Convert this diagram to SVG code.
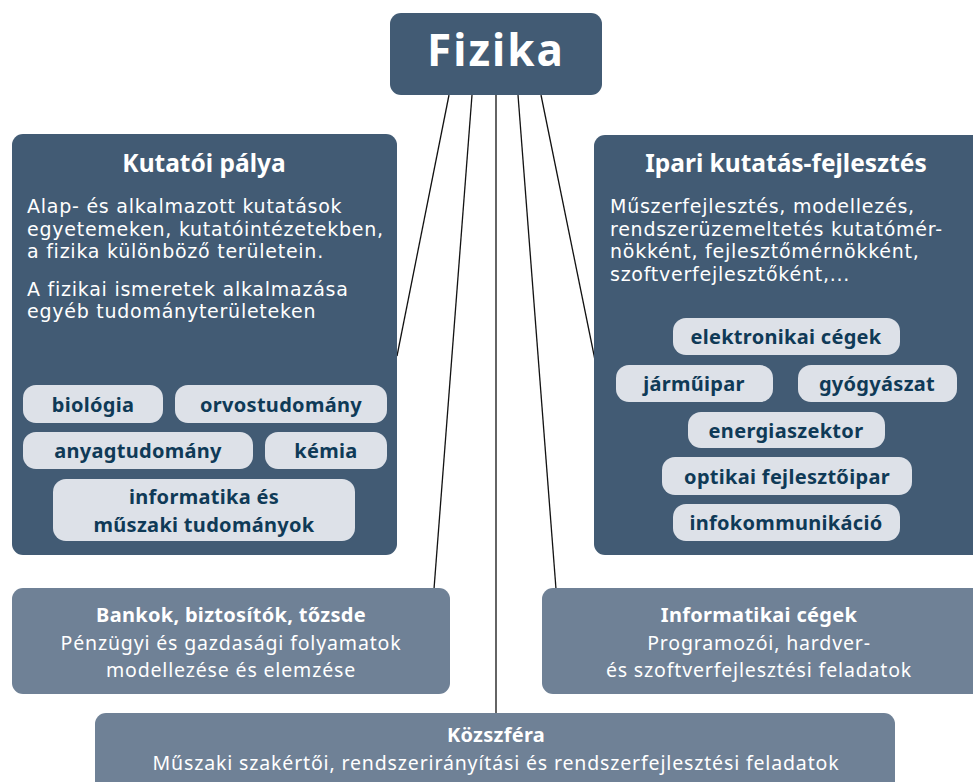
<svg xmlns="http://www.w3.org/2000/svg" width="973" height="782" viewBox="0 0 973 782">
<style>
.dark{fill:#425b74}
.mid{fill:#6f8196}
.pill{fill:#dde1e8}
text{font-family:"Noto Sans","Open Sans","DejaVu Sans",sans-serif}
.title{fill:#fff;font-weight:bold;font-size:24.5px;text-anchor:middle}
.body{fill:#fff;font-size:19px;letter-spacing:0.75px;font-family:"DejaVu Sans","Noto Sans",sans-serif}
.bc{fill:#fff;font-size:19.5px;letter-spacing:0.85px;text-anchor:middle}
.bt{fill:#fff;font-weight:bold;font-size:20px;letter-spacing:0.3px;text-anchor:middle}
.pt{fill:#0f3a57;font-weight:bold;font-size:20px;letter-spacing:0.3px;text-anchor:middle}
.conn line{stroke:#111;stroke-width:1.3}
</style>
<rect width="973" height="782" fill="#fff"/>
<g id="connectors" class="conn">
<line x1="449" y1="95" x2="397" y2="356"/>
<line x1="472" y1="95" x2="434" y2="589"/>
<line x1="496" y1="95" x2="496" y2="713"/>
<line x1="518" y1="95" x2="556" y2="589"/>
<line x1="541" y1="95" x2="595" y2="360"/>
</g>
<g id="fizika">
<rect class="dark" x="390" y="13" width="212" height="82" rx="11"/>
<text x="496" y="66" fill="#fff" font-weight="bold" font-size="44" letter-spacing="2" text-anchor="middle">Fizika</text>
</g>
<g id="kutatoi">
<rect class="dark" x="12" y="134" width="385" height="421" rx="11"/>
<text class="title" x="204" y="172">Kutatói pálya</text>
<text class="body" x="27" y="213">Alap- és alkalmazott kutatások</text>
<text class="body" x="27" y="236">egyetemeken, kutatóintézetekben,</text>
<text class="body" x="27" y="258">a fizika különböző területein.</text>
<text class="body" x="27" y="296">A fizikai ismeretek alkalmazása</text>
<text class="body" x="27" y="318">egyéb tudományterületeken</text>
<g id="biologia"><rect class="pill" x="23" y="385" width="140" height="38" rx="13"/><text class="pt" x="93" y="412">biológia</text></g>
<g id="orvos"><rect class="pill" x="175" y="385" width="212" height="38" rx="13"/><text class="pt" x="281" y="412">orvostudomány</text></g>
<g id="anyag"><rect class="pill" x="23" y="432" width="230" height="37" rx="13"/><text class="pt" x="138" y="458">anyagtudomány</text></g>
<g id="kemia"><rect class="pill" x="265" y="432" width="122" height="37" rx="13"/><text class="pt" x="326" y="458">kémia</text></g>
<g id="informatika"><rect class="pill" x="53" y="479" width="302" height="62" rx="13"/><text class="pt" x="204" y="504">informatika és</text><text class="pt" x="204" y="532">műszaki tudományok</text></g>
</g>
<g id="ipari">
<rect class="dark" x="594" y="135" width="390" height="420" rx="11"/>
<text class="title" x="786" y="172">Ipari kutatás-fejlesztés</text>
<text class="body" x="610" y="213">Műszerfejlesztés, modellezés,</text>
<text class="body" x="610" y="236">rendszerüzemeltetés kutatómér-</text>
<text class="body" x="610" y="258">nökként, fejlesztőmérnökként,</text>
<text class="body" x="610" y="281">szoftverfejlesztőként,...</text>
<g id="elektronikai"><rect class="pill" x="673" y="318" width="227" height="37" rx="13"/><text class="pt" x="786" y="344">elektronikai cégek</text></g>
<g id="jarmuipar"><rect class="pill" x="616" y="365" width="157" height="37" rx="13"/><text class="pt" x="694" y="391">járműipar</text></g>
<g id="gyogyaszat"><rect class="pill" x="798" y="365" width="159" height="37" rx="13"/><text class="pt" x="877" y="391">gyógyászat</text></g>
<g id="energia"><rect class="pill" x="688" y="412" width="197" height="36" rx="13"/><text class="pt" x="786" y="438">energiaszektor</text></g>
<g id="optikai"><rect class="pill" x="662" y="457" width="250" height="38" rx="13"/><text class="pt" x="787" y="484">optikai fejlesztőipar</text></g>
<g id="infokom"><rect class="pill" x="673" y="504" width="227" height="37" rx="13"/><text class="pt" x="786" y="530">infokommunikáció</text></g>
</g>
<g id="bankok">
<rect class="mid" x="12" y="588" width="438" height="106" rx="11"/>
<text class="bt" x="231" y="622">Bankok, biztosítók, tőzsde</text>
<text class="bc" x="231" y="650">Pénzügyi és gazdasági folyamatok</text>
<text class="bc" x="231" y="677">modellezése és elemzése</text>
</g>
<g id="infoceg">
<rect class="mid" x="542" y="588" width="442" height="106" rx="11"/>
<text class="bt" x="759" y="622">Informatikai cégek</text>
<text class="bc" x="759" y="650">Programozói, hardver-</text>
<text class="bc" x="759" y="677">és szoftverfejlesztési feladatok</text>
</g>
<g id="kozszfera">
<rect class="mid" x="95" y="713" width="800" height="90" rx="11"/>
<text class="bt" x="496" y="742">Közszféra</text>
<text class="bc" x="496" y="770">Műszaki szakértői, rendszerirányítási és rendszerfejlesztési feladatok</text>
</g>
</svg>
